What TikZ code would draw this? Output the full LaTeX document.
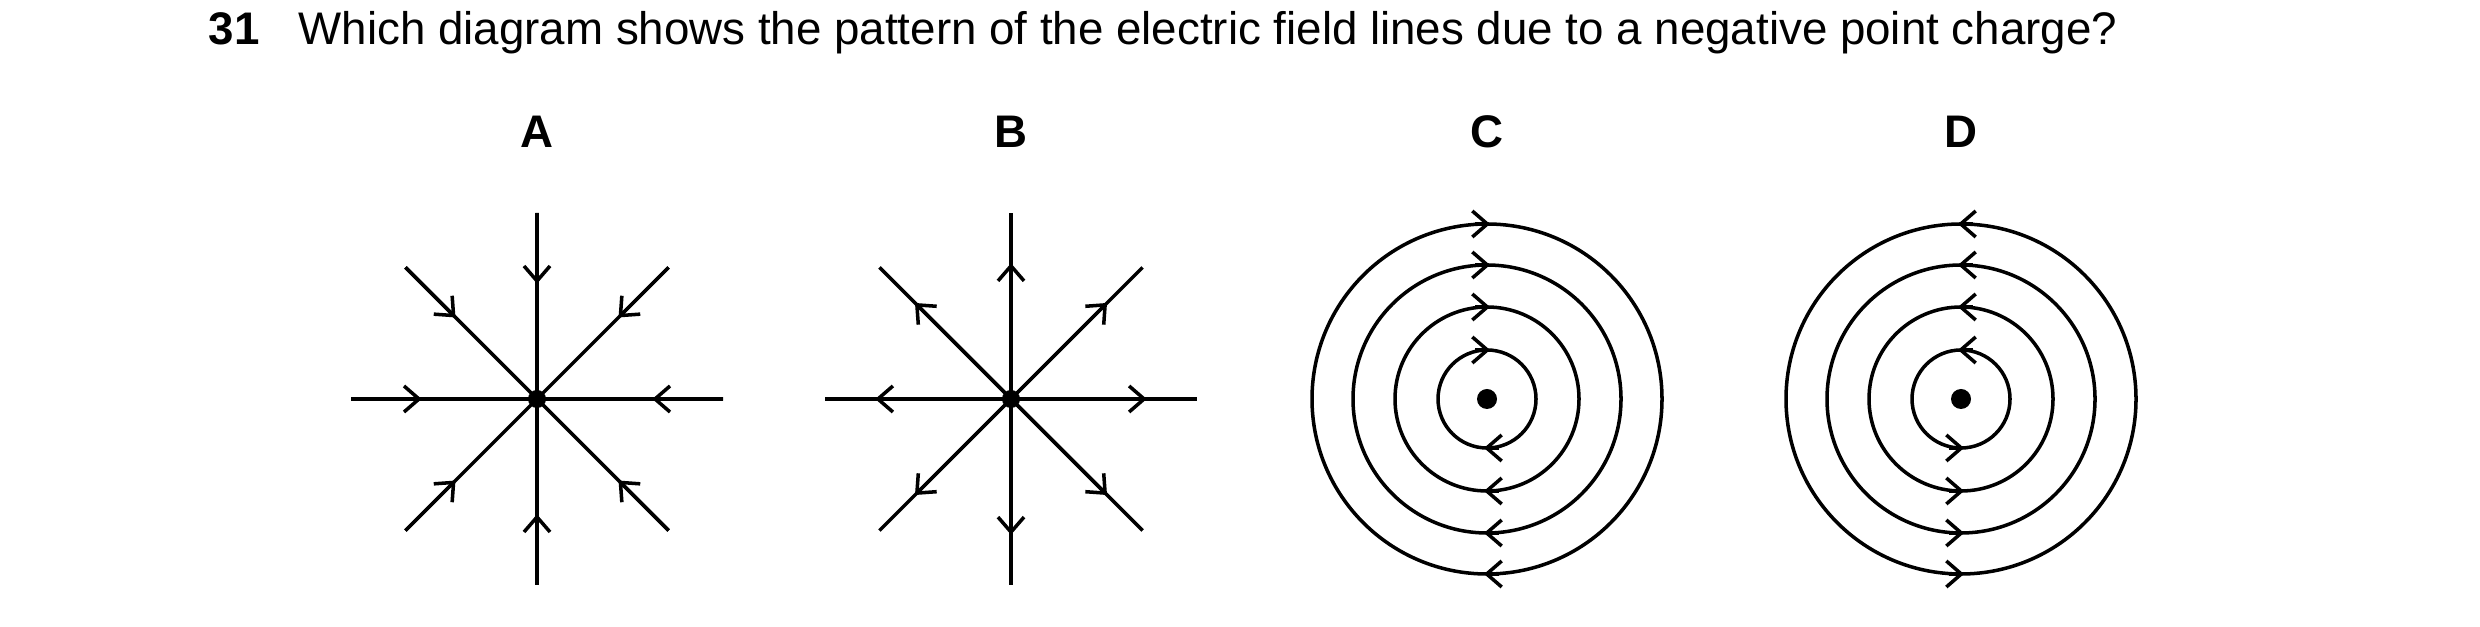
\documentclass[tikz,border=0pt]{standalone}
\usepackage{fontspec}
\setmainfont{Liberation Sans}
\usetikzlibrary{arrows.meta,calc}
\begin{document}
\begin{tikzpicture}[line width=1pt,
        chev/.style={-{Straight Barb[length=1.5mm,width=2.6mm,line width=1pt]}},
        charge/.style={circle,fill=black,minimum size=#1,inner sep=0pt},
        lbl/.style={font=\fontsize{13}{15}\selectfont\bfseries}]
\useasboundingbox (0,0) rectangle (24.8,6.27);

% question
\node[anchor=base west,inner sep=0pt,font=\fontsize{13}{15}\selectfont\bfseries] (num) at (2.07,5.825) {31};
\node[anchor=base west,inner sep=0pt,font=\fontsize{13}{15}\selectfont] (question) at (2.97,5.825)
    {Which diagram shows the pattern of the electric field lines due to a negative point charge?};

% labels
\node[lbl,anchor=base] (labA) at (5.37,4.79) {A};
\node[lbl,anchor=base] (labB) at (10.11,4.79) {B};
\node[lbl,anchor=base] (labC) at (14.87,4.79) {C};
\node[lbl,anchor=base] (labD) at (19.61,4.79) {D};

% A: field lines pointing in
\node[charge=1.8mm] (qA) at (5.37,2.28) {};
\foreach \a in {0,45,...,315}{
    \coordinate (endA\a) at ($(qA.center)+(\a:1.86)$);
    \draw (qA.center) -- (endA\a);
    \draw[chev] (endA\a) -- ($(qA.center)!0.62!(endA\a)$);
}

% B: field lines pointing out
\node[charge=1.8mm] (qB) at (10.11,2.28) {};
\foreach \a in {0,45,...,315}{
    \coordinate (endB\a) at ($(qB.center)+(\a:1.86)$);
    \draw (qB.center) -- (endB\a);
    \draw[chev] (qB.center) -- ($(qB.center)!0.73!(endB\a)$);
}

% C: clockwise circles
\node[charge=2mm] (qC) at (14.87,2.28) {};
\foreach \r in {0.49,0.92,1.34,1.75}{
    \draw (qC.center) circle[radius=\r];
    \draw[chev] ($(qC.center)+(-0.12,\r)$) -- ($(qC.center)+(0.03,\r)$);
    \draw[chev] ($(qC.center)+(0.12,-\r)$) -- ($(qC.center)+(-0.03,-\r)$);
}

% D: anticlockwise circles
\node[charge=2mm] (qD) at (19.61,2.28) {};
\foreach \r in {0.49,0.92,1.34,1.75}{
    \draw (qD.center) circle[radius=\r];
    \draw[chev] ($(qD.center)+(0.12,\r)$) -- ($(qD.center)+(-0.03,\r)$);
    \draw[chev] ($(qD.center)+(-0.12,-\r)$) -- ($(qD.center)+(0.03,-\r)$);
}
\end{tikzpicture}
\end{document}
